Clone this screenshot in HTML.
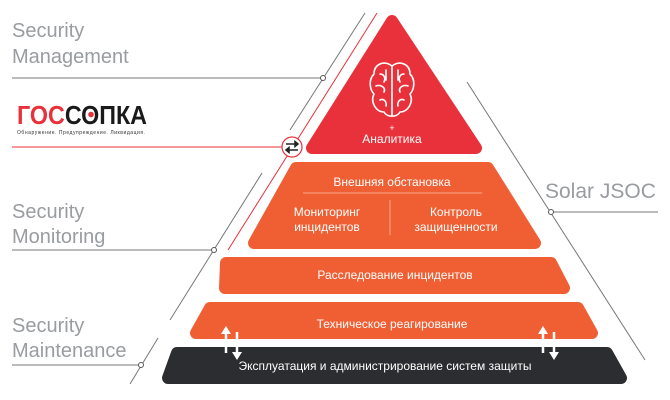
<!DOCTYPE html>
<html><head><meta charset="utf-8"><style>html,body{margin:0;padding:0;background:#fff}svg{display:block}</style></head>
<body>
<svg width="670" height="400" viewBox="0 0 670 400" xmlns="http://www.w3.org/2000/svg" font-family="Liberation Sans, DejaVu Sans, sans-serif">
<g fill="#999ca0" font-size="20">
<text x="12" y="37">Security</text><text x="12" y="63">Management</text>
<text x="12" y="218">Security</text><text x="12" y="243">Monitoring</text>
<text x="12" y="332">Security</text><text x="12" y="357">Maintenance</text>
<text x="545" y="198" font-size="21">Solar JSOC</text>
</g>
<g stroke="#777" stroke-width="1" fill="none">
<line x1="12" y1="78" x2="323" y2="78"/><line x1="365" y1="13" x2="290" y2="130"/>
<line x1="12" y1="250" x2="214" y2="250"/><line x1="262" y1="173" x2="170" y2="320"/>
<line x1="12" y1="365" x2="141" y2="365"/><line x1="158" y1="338" x2="130" y2="384"/>
<line x1="467" y1="82" x2="645" y2="360"/><line x1="551" y1="212" x2="658" y2="212"/>
</g>
<g fill="#fff" stroke="#555" stroke-width="1"><circle cx="323" cy="78" r="2.5"/><circle cx="214" cy="250" r="2.5"/><circle cx="141" cy="365" r="2.5"/><circle cx="551" cy="212" r="2.5"/></g>
<line x1="377" y1="13" x2="228" y2="250" stroke="#e8313a" stroke-width="1"/>
<line x1="12" y1="147" x2="283" y2="147" stroke="#e8313a" stroke-width="1"/>
<circle cx="292" cy="147" r="10" fill="#fff" stroke="#e8313a" stroke-width="1.2"/>
<g stroke="#222" stroke-width="1.5" fill="#222"><line x1="286" y1="144" x2="297" y2="144"/><path d="M298 144 l-3 -2.5 v5z"/><line x1="287" y1="150" x2="298" y2="150"/><path d="M286 150 l3 -2.5 v5z"/></g>
<text x="17" y="124" font-size="26" font-weight="bold" fill="#e8313a" textLength="130" lengthAdjust="spacingAndGlyphs">ГОС<tspan fill="#1a1a1a">СОПКА</tspan></text>
<circle cx="91" cy="114.5" r="2.8" fill="#e8313a"/>
<text x="17" y="134" font-size="5" fill="#333" textLength="128">Обнаружение<tspan fill="#e8313a">.</tspan>   Предупреждение<tspan fill="#e8313a">.</tspan>   Ликвидация<tspan fill="#e8313a">.</tspan></text>
<g stroke-linejoin="round" stroke-width="12">
<path d="M392 21 L476 148 L312 148 Z" fill="#e8313a" stroke="#e8313a"/>
<path d="M296 168 L488 168 L535 243 L254 243 Z" fill="#f05f33" stroke="#f05f33"/>
<path d="M226 263 L551 263 L564 288 L225 288 Z" fill="#f05f33" stroke="#f05f33"/>
<path d="M210 308 L578 308 L592 333 L196 333 Z" fill="#f05f33" stroke="#f05f33"/>
<path d="M177 353 L607 353 L621 378 L168 378 Z" fill="#2b2d30" stroke="#2b2d30"/>
</g>
<g fill="none" stroke="#fff" stroke-width="1.6" stroke-linecap="round" stroke-linejoin="round">
<path d="M392 66 C384 60 374 64 374 74 C368 80 370 90 374 94 C370 102 376 112 384 112 C387 117 392 116 392 116 M392 66 C400 60 410 64 410 74 C416 80 414 90 410 94 C414 102 408 112 400 112 C397 117 392 116 392 116 M392 66 V116"/>
<path d="M380 74 c4 0 6 4 4 8 M376 86 c5 -2 10 2 8 6 M380 100 c4 -2 7 2 6 6 M386 70 v10 M404 74 c-4 0 -6 4 -4 8 M408 86 c-5 -2 -10 2 -8 6 M404 100 c-4 -2 -7 2 -6 6 M398 70 v10"/>
</g>
<g fill="#fff" font-size="12" text-anchor="middle">
<text x="392" y="131" font-size="9">+</text>
<text x="392" y="143">Аналитика</text>
<text x="392" y="186">Внешняя обстановка</text>
<text x="327" y="216">Мониторинг</text><text x="327" y="231">инцидентов</text>
<text x="456" y="216">Контроль</text><text x="456" y="231">защищенности</text>
<text x="395" y="279">Расследование инцидентов</text>
<text x="392" y="328">Техническое реагирование</text>
<text x="385" y="370">Эксплуатация и администрирование систем защиты</text>
</g>
<line x1="303" y1="193" x2="482" y2="193" stroke="#f9a98c" stroke-width="1"/>
<line x1="390" y1="200" x2="390" y2="235" stroke="#f9a98c" stroke-width="1"/>
<g fill="#fff" stroke="#fff" stroke-width="2.5">
<line x1="226" y1="333" x2="226" y2="353"/><path d="M221 334 L226 326 L231 334Z" stroke-width="0"/>
<line x1="237" y1="332" x2="237" y2="352"/><path d="M232 352 L237 360 L242 352Z" stroke-width="0"/>
<line x1="543" y1="333" x2="543" y2="353"/><path d="M538 334 L543 326 L548 334Z" stroke-width="0"/>
<line x1="554" y1="332" x2="554" y2="352"/><path d="M549 352 L554 360 L559 352Z" stroke-width="0"/>
</g>
</svg>
</body></html>
